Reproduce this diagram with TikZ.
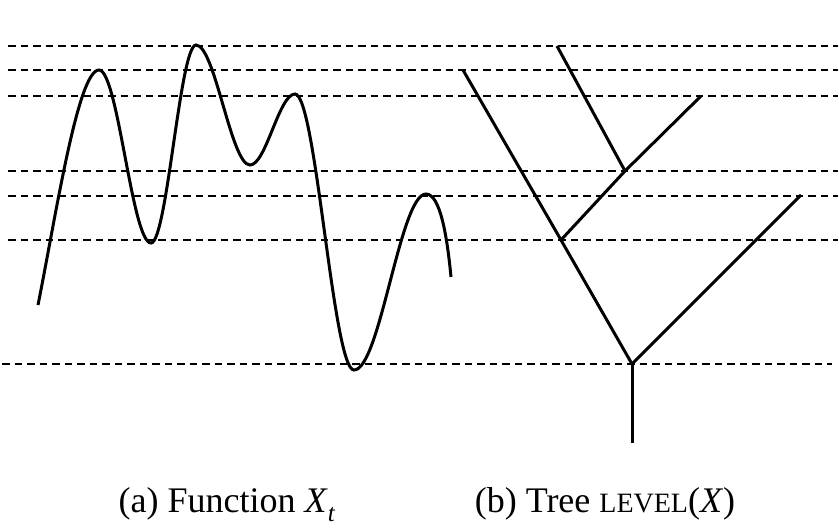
\documentclass[tikz,border=0pt]{standalone}
\usepackage{fontspec}
\setmainfont{Liberation Serif}

\begin{document}
\begin{tikzpicture}[
    x=1pt, y=-1pt,
    cutline/.style={line width=2.7pt, dash pattern=on 7.5pt off 5pt},
    branch/.style={line width=3pt},
    caption/.style={anchor=base, inner sep=0pt, font=\fontsize{36}{40}\selectfont}
  ]
  \useasboundingbox (0,0) rectangle (839,531);

  % Levels
  \draw[cutline] (8,46) -- (838,46);
  \draw[cutline] (8,70) -- (838,70);
  \draw[cutline] (8,96) -- (838,96);
  \draw[cutline] (8,171) -- (838,171);
  \draw[cutline] (8,196) -- (838,196);
  \draw[cutline] (8,240) -- (838,240);
  \draw[cutline] (2,364) -- (832,364);

  % Function
  \draw[branch] (38,305)
    .. controls (56,215) and (78,70) .. (99,70)
    .. controls (118,70) and (132,243) .. (151,243)
    .. controls (167,243) and (180,45) .. (196,45)
    .. controls (215,45) and (231,165) .. (250,165)
    .. controls (266,165) and (279,94) .. (295,94)
    .. controls (316,94) and (333,370) .. (354,370)
    .. controls (380,370) and (400,194) .. (426,194)
    .. controls (440,194) and (447,235) .. (451,277);

  % Tree
  \coordinate (stem) at (632,443);
  \coordinate (root) at (632,364);
  \coordinate (forkA) at (561,240);
  \coordinate (forkB) at (625,171);
  \coordinate (leafL) at (463,70);
  \coordinate (leafR) at (801,195);
  \coordinate (leafB) at (701,96);
  \coordinate (leafT) at (557,46);

  \draw[branch] (stem) -- (root);
  \draw[branch] (root) -- (forkA);
  \draw[branch] (forkA) -- (leafL);
  \draw[branch] (root) -- (leafR);
  \draw[branch] (forkA) -- (forkB);
  \draw[branch] (forkB) -- (leafB);
  \draw[branch] (forkB) -- (leafT);

  % Captions
  \node[caption] (capa) at (227,512)
    {(a) Function \textit{X}\raisebox{-0.25em}{\fontsize{25}{25}\selectfont\textit{t}}};
  \node[caption] (capb) at (605,512)
    {(b) Tree {\fontsize{28}{28}\selectfont LEVEL}(\textit{X})};
\end{tikzpicture}
\end{document}
